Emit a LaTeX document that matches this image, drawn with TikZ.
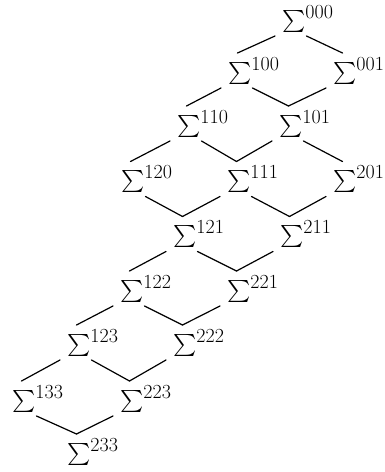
\documentclass[tikz,border=0pt]{standalone}
\usepackage{graphicx}
\usetikzlibrary{calc}
\tikzset{
  sig/.style={anchor=base west, inner sep=0pt},
  edge/.style={line width=1.2pt, line cap=round}
}
\newcommand{\sgm}[1]{\scalebox{2.2}{$\sum$}\raisebox{8.5pt}{\fontsize{20}{20}\selectfont #1}}
\newcommand{\dl}[2]{\draw[edge] ($(#1.base west)+(-7,9.5)$) -- ($(#2.base west)+(9.5,-25.5)$);}
\newcommand{\dr}[2]{\draw[edge] ($(#1.base west)+(24.5,9.5)$) -- ($(#2.base west)+(9.5,-25.5)$);}
\begin{document}
\begin{tikzpicture}[x=1pt,y=-1pt]
\useasboundingbox (0,0) rectangle (385,472);
\node[sig] (n000) at (282,26.5) {\sgm{000}};
\node[sig] (n100) at (228,78.5) {\sgm{100}};
\node[sig] (n001) at (333,78.5) {\sgm{001}};
\node[sig] (n110) at (177,131.5) {\sgm{110}};
\node[sig] (n101) at (279,131.5) {\sgm{101}};
\node[sig] (n120) at (121,187) {\sgm{120}};
\node[sig] (n111) at (227,187) {\sgm{111}};
\node[sig] (n201) at (333,187) {\sgm{201}};
\node[sig] (n121) at (173,242) {\sgm{121}};
\node[sig] (n211) at (280,242) {\sgm{211}};
\node[sig] (n122) at (120,296.5) {\sgm{122}};
\node[sig] (n221) at (227,296.5) {\sgm{221}};
\node[sig] (n123) at (67,350.5) {\sgm{123}};
\node[sig] (n222) at (173,350.5) {\sgm{222}};
\node[sig] (n133) at (12,406.5) {\sgm{133}};
\node[sig] (n223) at (120,406.5) {\sgm{223}};
\node[sig] (n233) at (67,459.5) {\sgm{233}};
\dl{n000}{n100} \dr{n000}{n001}
\dl{n100}{n110} \dr{n100}{n101} \dl{n001}{n101}
\dl{n110}{n120} \dr{n110}{n111} \dl{n101}{n111} \dr{n101}{n201}
\dr{n120}{n121} \dl{n111}{n121} \dr{n111}{n211} \dl{n201}{n211}
\dl{n121}{n122} \dr{n121}{n221} \dl{n211}{n221}
\dl{n122}{n123} \dr{n122}{n222} \dl{n221}{n222}
\dl{n123}{n133} \dr{n123}{n223} \dl{n222}{n223}
\dr{n133}{n233} \dl{n223}{n233}
\end{tikzpicture}
\end{document}
